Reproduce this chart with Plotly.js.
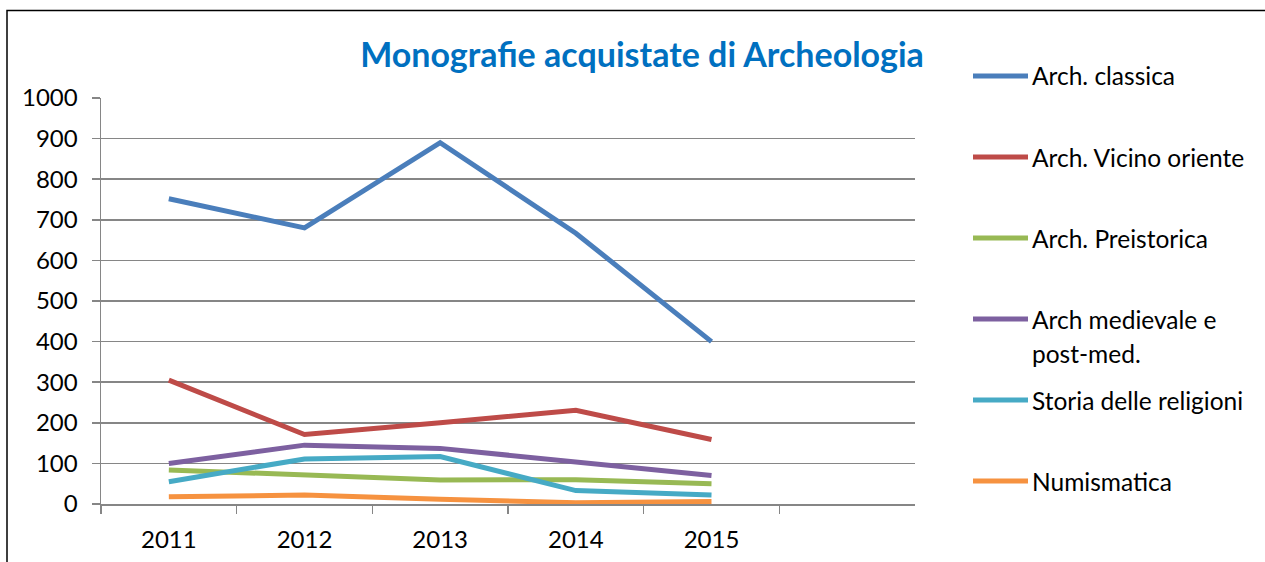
<!DOCTYPE html>
<html>
<head>
<meta charset="utf-8">
<script src="https://cdn.plot.ly/plotly-3.0.1.min.js"></script>
<style>html,body{margin:0;padding:0;background:#fff;}#chart{width:1265px;height:562px;}</style>
</head>
<body>
<div id="chart"></div>
<script>
// ---- data ----
const years = ['2011', '2012', '2013', '2014', '2015'];
const archClassica = [752, 680, 890, 667, 400];
const archVicinoOriente = [305, 171, 200, 231, 159];
const archPreistorica = [84, 73, 59, 60, 50];
const archMedievale = [100, 145, 137, 104, 70];
const storiaReligioni = [55, 111, 117, 33, 22];
const numismatica = [18, 22, 12, 3, 6];
const seriesNames = ['Arch. classica', 'Arch. Vicino oriente', 'Arch. Preistorica',
  'Arch medievale e\npost-med.', 'Storia delle religioni', 'Numismatica'];
const yTicks = [0, 100, 200, 300, 400, 500, 600, 700, 800, 900, 1000];

// ---- styling ----
const seriesValues = [archClassica, archVicinoOriente, archPreistorica, archMedievale, storiaReligioni, numismatica];
const colors = ['#4A7EBB', '#BE4B48', '#98B954', '#7D60A0', '#46AAC5', '#F69240'];
const FONT = 'Lato, "Open Sans", sans-serif';
const W = 1265, H = 562;
const L = 101, R = 915, T = 98, B = 504;
const px2x = p => (p - L) / (R - L);
const py2y = p => (B - p) / (B - T);

const traces = seriesValues.map((vals, i) => ({
  type: 'scatter', mode: 'lines',
  x: years, y: vals,
  name: seriesNames[i].replace('\n', ' '),
  line: { color: colors[i], width: 5 },
  showlegend: false, hoverinfo: 'x+y+name'
}));

const shapes = [];
const annotations = [];
// frame
shapes.push({ type: 'rect', xref: 'paper', yref: 'paper',
  x0: px2x(7), x1: 1.6, y0: py2y(10.5), y1: -0.4,
  line: { color: '#000', width: 1.5 }, fillcolor: 'rgba(0,0,0,0)' });

// manual legend
const legendRows = [76, 157, 238, 319, 400, 481];
seriesNames.forEach((nm, i) => {
  const yc = legendRows[i];
  shapes.push({ type: 'line', xref: 'paper', yref: 'paper',
    x0: px2x(973), x1: px2x(1028), y0: py2y(yc), y1: py2y(yc),
    line: { color: colors[i], width: 5 } });
  nm.split('\n').forEach((part, k) => {
    annotations.push({ xref: 'paper', yref: 'paper', x: px2x(1030), y: py2y(yc + k * 34),
      xanchor: 'left', yanchor: 'middle', showarrow: false, text: part,
      font: { family: FONT, size: 24.5, color: '#000' } });
  });
});

const layout = {
  width: W, height: H,
  margin: { l: L, r: W - R, t: T, b: H - B, pad: 0 },
  paper_bgcolor: '#fff', plot_bgcolor: '#fff',
  font: { family: FONT, size: 24, color: '#000' },
  title: { text: 'Monografie acquistate di Archeologia',
    font: { family: FONT, size: 34, color: '#0070C0', weight: 'bold' },
    x: 642 / W, xanchor: 'center', xref: 'container',
    y: 1 - 55 / H, yanchor: 'middle', yref: 'container' },
  xaxis: {
    type: 'category', categoryorder: 'array', categoryarray: years,
    range: [-0.5, 5.5], tickson: 'boundaries',
    ticks: 'outside', ticklen: 8, tickwidth: 1.5, tickcolor: '#868686',
    showline: true, linecolor: '#868686', linewidth: 1.5,
    showgrid: false, zeroline: false,
    tickfont: { family: FONT, size: 24, color: '#000' },
    ticklabelstandoff: 14
  },
  yaxis: {
    range: [0, 1000], tickvals: yTicks, ticktext: yTicks.map(String),
    ticks: 'outside', ticklen: 8, tickwidth: 1.5, tickcolor: '#868686',
    showline: true, linecolor: '#868686', linewidth: 1.5,
    showgrid: true, gridcolor: '#868686', gridwidth: 1.5, zeroline: false,
    tickfont: { family: FONT, size: 24, color: '#000' },
    ticklabelstandoff: 9
  },
  shapes: shapes, annotations: annotations,
  showlegend: false
};

Plotly.newPlot('chart', traces, layout, { displayModeBar: false, staticPlot: true });
</script>
</body>
</html>
